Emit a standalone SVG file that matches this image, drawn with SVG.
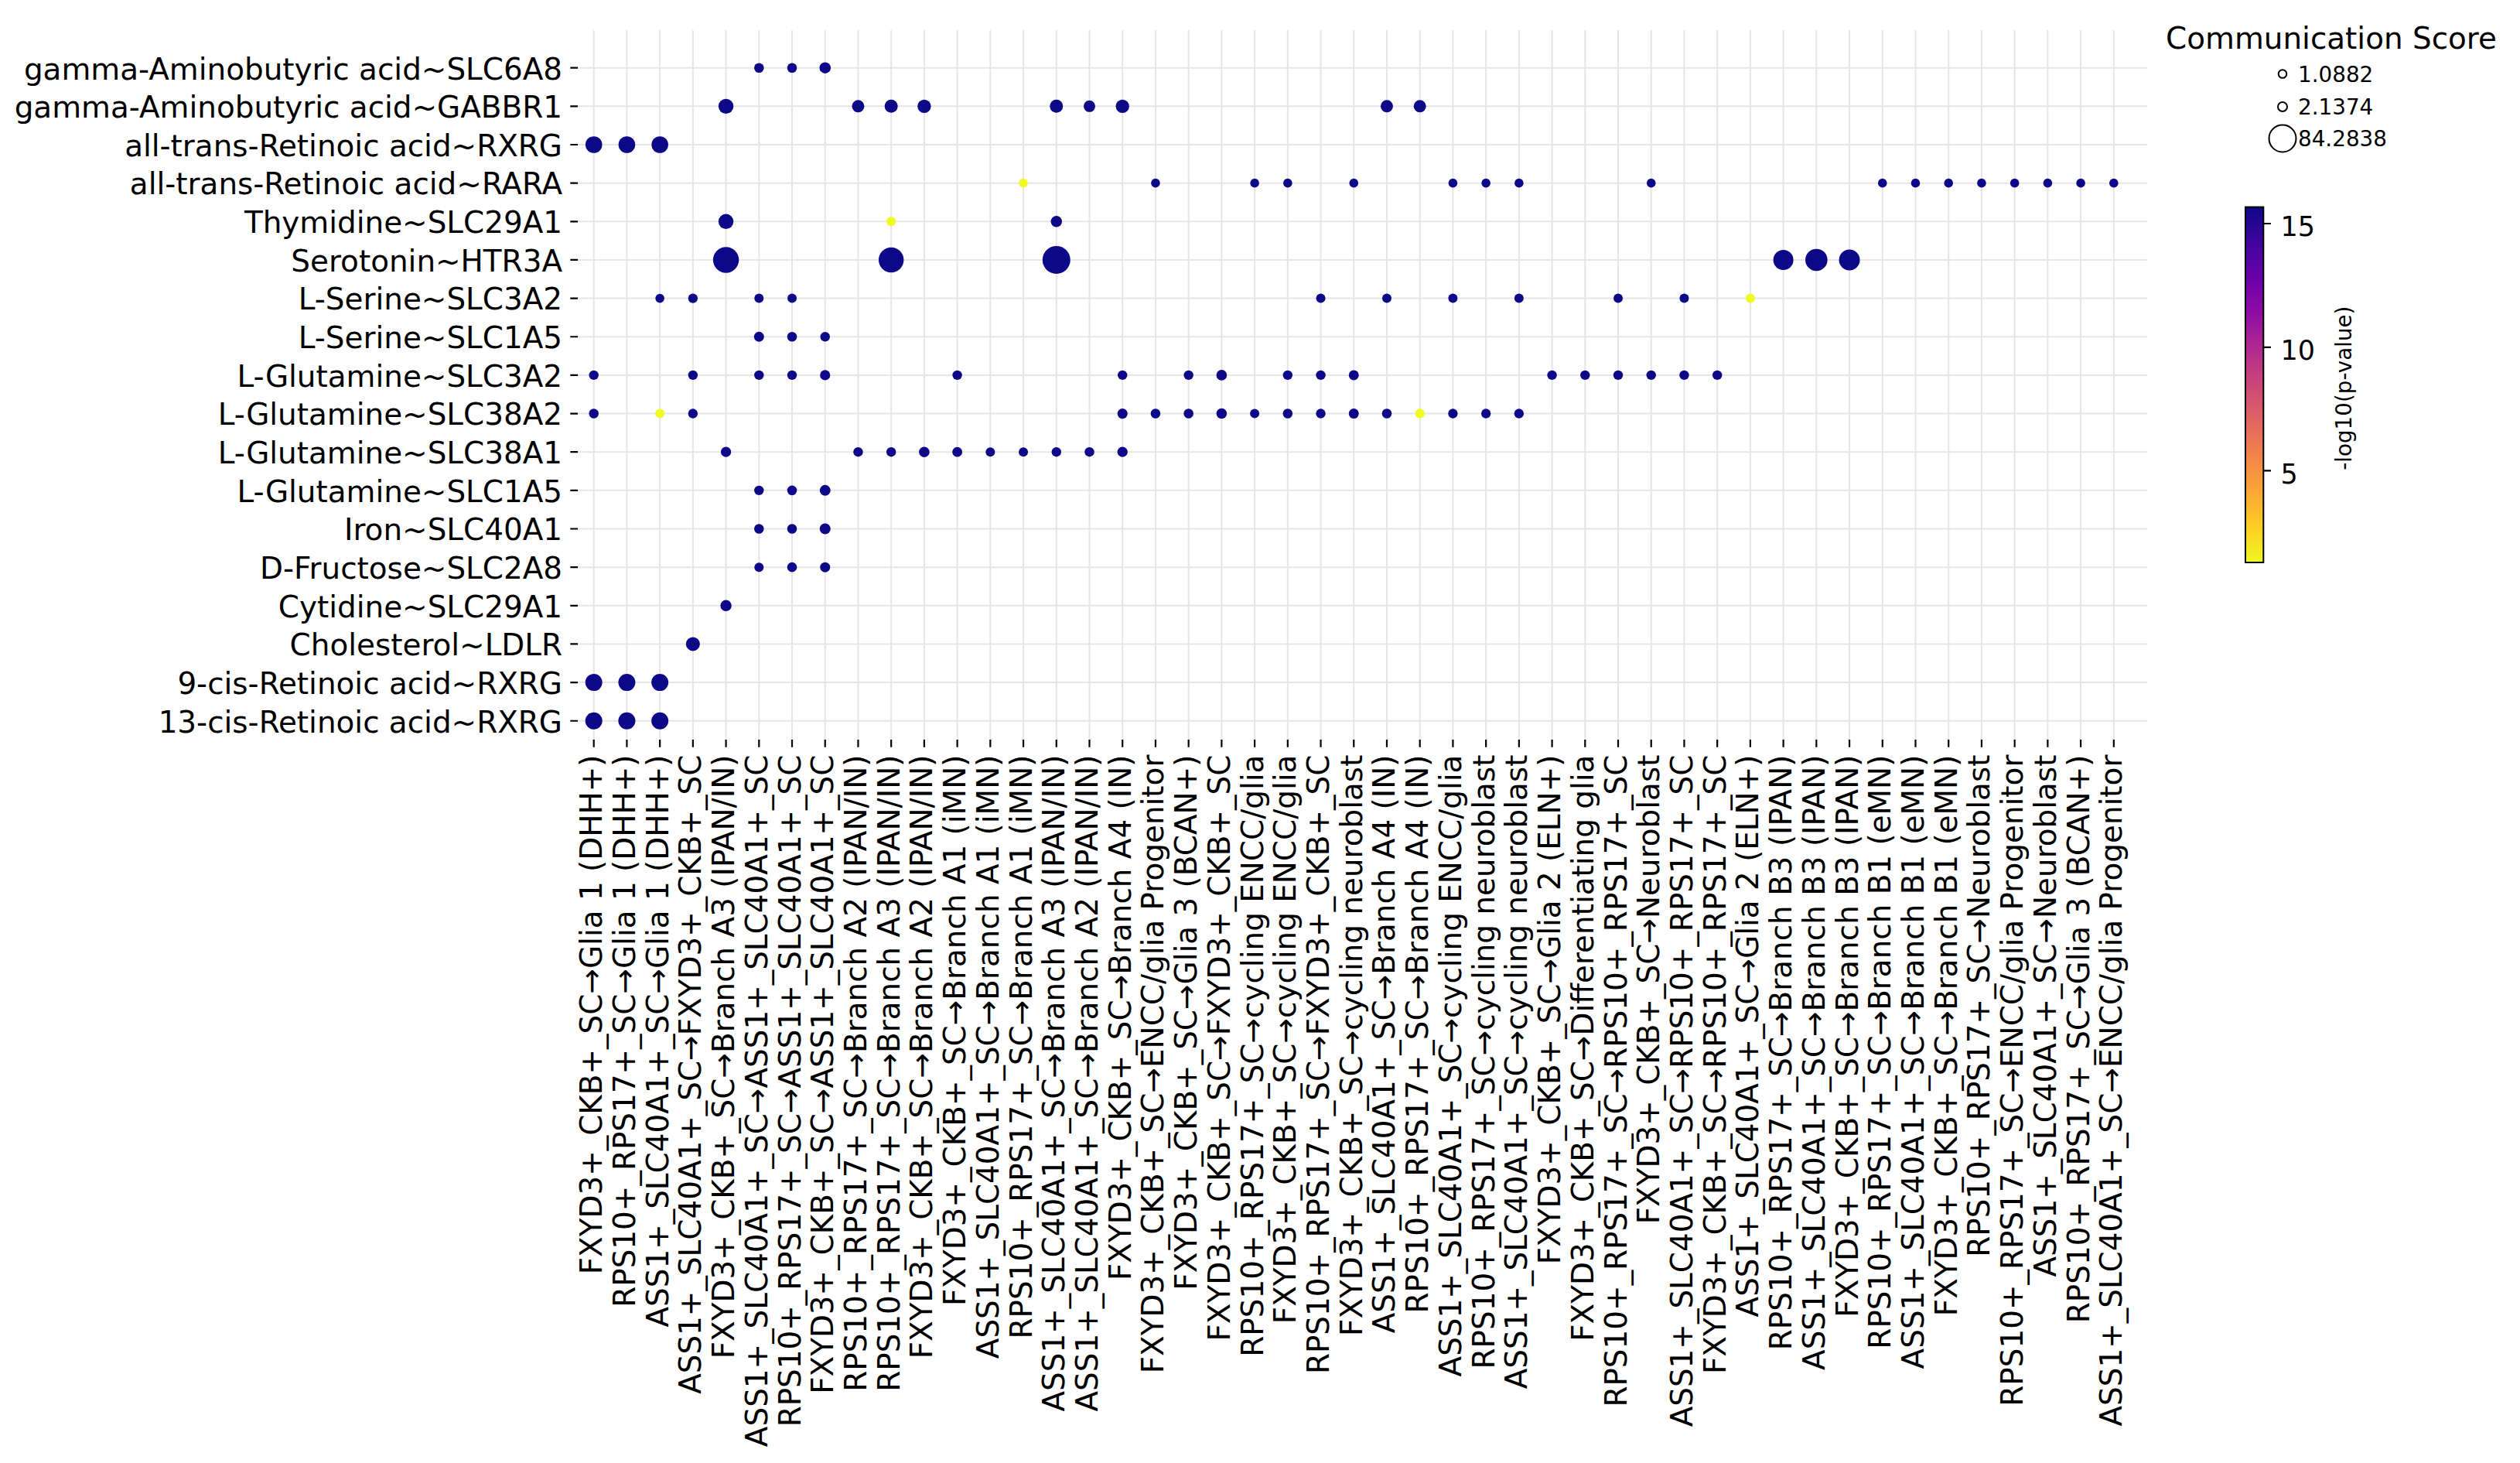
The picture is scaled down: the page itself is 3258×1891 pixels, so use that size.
<svg xmlns="http://www.w3.org/2000/svg" width="3258" height="1891" viewBox="0 0 3258 1891">
<defs>
<style>
text{font-family:"DejaVu Sans","Liberation Sans",sans-serif;fill:#000}
.yl{font-size:38.9px;text-anchor:end}
.xl{font-size:38.9px;text-anchor:end}
.grid{stroke:#e6e6e6;stroke-width:2;fill:none}
.tick{stroke:#000;stroke-width:2.2;fill:none}
.b{fill:#0d0887}
.y{fill:#f0f921}
.lg{fill:none;stroke:#000;stroke-width:2}
.lt{font-size:27.8px}
.ct{font-size:35px}
</style>
<linearGradient id="plasma" x1="0" y1="0" x2="0" y2="1">
<stop offset="0" stop-color="#0d0887"/>
<stop offset="0.1" stop-color="#41049d"/>
<stop offset="0.2" stop-color="#6a00a8"/>
<stop offset="0.3" stop-color="#8f0da4"/>
<stop offset="0.4" stop-color="#b12a90"/>
<stop offset="0.5" stop-color="#cc4778"/>
<stop offset="0.6" stop-color="#e16462"/>
<stop offset="0.7" stop-color="#f2844b"/>
<stop offset="0.8" stop-color="#fca636"/>
<stop offset="0.9" stop-color="#fcce25"/>
<stop offset="1" stop-color="#f0f921"/>
</linearGradient>
</defs>
<rect width="3258" height="1891" fill="#fff"/>
<g id="grid">
<path class="grid" d="M767.7 39V956M810.42 39V956M853.14 39V956M895.86 39V956M938.58 39V956M981.3 39V956M1024.02 39V956M1066.74 39V956M1109.46 39V956M1152.18 39V956M1194.9 39V956M1237.62 39V956M1280.34 39V956M1323.06 39V956M1365.78 39V956M1408.5 39V956M1451.22 39V956M1493.94 39V956M1536.66 39V956M1579.38 39V956M1622.1 39V956M1664.82 39V956M1707.54 39V956M1750.26 39V956M1792.98 39V956M1835.7 39V956M1878.42 39V956M1921.14 39V956M1963.86 39V956M2006.58 39V956M2049.3 39V956M2092.02 39V956M2134.74 39V956M2177.46 39V956M2220.18 39V956M2262.9 39V956M2305.62 39V956M2348.34 39V956M2391.06 39V956M2433.78 39V956M2476.5 39V956M2519.22 39V956M2561.94 39V956M2604.66 39V956M2647.38 39V956M2690.1 39V956M2732.82 39V956"/>
<path class="grid" d="M747 87.7H2776M747 137.35H2776M747 187H2776M747 236.65H2776M747 286.3H2776M747 335.95H2776M747 385.6H2776M747 435.25H2776M747 484.9H2776M747 534.55H2776M747 584.2H2776M747 633.85H2776M747 683.5H2776M747 733.15H2776M747 782.8H2776M747 832.45H2776M747 882.1H2776M747 931.75H2776"/>
</g>
<g id="ticks">
<path class="tick" d="M737.3 87.7H747M737.3 137.35H747M737.3 187H747M737.3 236.65H747M737.3 286.3H747M737.3 335.95H747M737.3 385.6H747M737.3 435.25H747M737.3 484.9H747M737.3 534.55H747M737.3 584.2H747M737.3 633.85H747M737.3 683.5H747M737.3 733.15H747M737.3 782.8H747M737.3 832.45H747M737.3 882.1H747M737.3 931.75H747"/>
<path class="tick" d="M767.7 956V965.7M810.42 956V965.7M853.14 956V965.7M895.86 956V965.7M938.58 956V965.7M981.3 956V965.7M1024.02 956V965.7M1066.74 956V965.7M1109.46 956V965.7M1152.18 956V965.7M1194.9 956V965.7M1237.62 956V965.7M1280.34 956V965.7M1323.06 956V965.7M1365.78 956V965.7M1408.5 956V965.7M1451.22 956V965.7M1493.94 956V965.7M1536.66 956V965.7M1579.38 956V965.7M1622.1 956V965.7M1664.82 956V965.7M1707.54 956V965.7M1750.26 956V965.7M1792.98 956V965.7M1835.7 956V965.7M1878.42 956V965.7M1921.14 956V965.7M1963.86 956V965.7M2006.58 956V965.7M2049.3 956V965.7M2092.02 956V965.7M2134.74 956V965.7M2177.46 956V965.7M2220.18 956V965.7M2262.9 956V965.7M2305.62 956V965.7M2348.34 956V965.7M2391.06 956V965.7M2433.78 956V965.7M2476.5 956V965.7M2519.22 956V965.7M2561.94 956V965.7M2604.66 956V965.7M2647.38 956V965.7M2690.1 956V965.7M2732.82 956V965.7"/>
</g>
<g id="row-labels">
<text class="yl" x="727" y="102.5">gamma-Aminobutyric acid~SLC6A8</text>
<text class="yl" x="727" y="152.15">gamma-Aminobutyric acid~GABBR1</text>
<text class="yl" x="727" y="201.8">all-trans-Retinoic acid~RXRG</text>
<text class="yl" x="727" y="251.45">all-trans-Retinoic acid~RARA</text>
<text class="yl" x="727" y="301.1">Thymidine~SLC29A1</text>
<text class="yl" x="727" y="350.75">Serotonin~HTR3A</text>
<text class="yl" x="727" y="400.4">L-Serine~SLC3A2</text>
<text class="yl" x="727" y="450.05">L-Serine~SLC1A5</text>
<text class="yl" x="727" y="499.7">L-Glutamine~SLC3A2</text>
<text class="yl" x="727" y="549.35">L-Glutamine~SLC38A2</text>
<text class="yl" x="727" y="599">L-Glutamine~SLC38A1</text>
<text class="yl" x="727" y="648.65">L-Glutamine~SLC1A5</text>
<text class="yl" x="727" y="698.3">Iron~SLC40A1</text>
<text class="yl" x="727" y="747.95">D-Fructose~SLC2A8</text>
<text class="yl" x="727" y="797.6">Cytidine~SLC29A1</text>
<text class="yl" x="727" y="847.25">Cholesterol~LDLR</text>
<text class="yl" x="727" y="896.9">9-cis-Retinoic acid~RXRG</text>
<text class="yl" x="727" y="946.55">13-cis-Retinoic acid~RXRG</text>
</g>
<g id="column-labels">
<text class="xl" transform="translate(778.2 975.6) rotate(-90)">FXYD3+_CKB+_SC→Glia 1 (DHH+)</text>
<text class="xl" transform="translate(820.92 975.6) rotate(-90)">RPS10+_RPS17+_SC→Glia 1 (DHH+)</text>
<text class="xl" transform="translate(863.64 975.6) rotate(-90)">ASS1+_SLC40A1+_SC→Glia 1 (DHH+)</text>
<text class="xl" transform="translate(906.36 975.6) rotate(-90)">ASS1+_SLC40A1+_SC→FXYD3+_CKB+_SC</text>
<text class="xl" transform="translate(949.08 975.6) rotate(-90)">FXYD3+_CKB+_SC→Branch A3 (IPAN/IN)</text>
<text class="xl" transform="translate(991.8 975.6) rotate(-90)">ASS1+_SLC40A1+_SC→ASS1+_SLC40A1+_SC</text>
<text class="xl" transform="translate(1034.52 975.6) rotate(-90)">RPS10+_RPS17+_SC→ASS1+_SLC40A1+_SC</text>
<text class="xl" transform="translate(1077.24 975.6) rotate(-90)">FXYD3+_CKB+_SC→ASS1+_SLC40A1+_SC</text>
<text class="xl" transform="translate(1119.96 975.6) rotate(-90)">RPS10+_RPS17+_SC→Branch A2 (IPAN/IN)</text>
<text class="xl" transform="translate(1162.68 975.6) rotate(-90)">RPS10+_RPS17+_SC→Branch A3 (IPAN/IN)</text>
<text class="xl" transform="translate(1205.4 975.6) rotate(-90)">FXYD3+_CKB+_SC→Branch A2 (IPAN/IN)</text>
<text class="xl" transform="translate(1248.12 975.6) rotate(-90)">FXYD3+_CKB+_SC→Branch A1 (iMN)</text>
<text class="xl" transform="translate(1290.84 975.6) rotate(-90)">ASS1+_SLC40A1+_SC→Branch A1 (iMN)</text>
<text class="xl" transform="translate(1333.56 975.6) rotate(-90)">RPS10+_RPS17+_SC→Branch A1 (iMN)</text>
<text class="xl" transform="translate(1376.28 975.6) rotate(-90)">ASS1+_SLC40A1+_SC→Branch A3 (IPAN/IN)</text>
<text class="xl" transform="translate(1419 975.6) rotate(-90)">ASS1+_SLC40A1+_SC→Branch A2 (IPAN/IN)</text>
<text class="xl" transform="translate(1461.72 975.6) rotate(-90)">FXYD3+_CKB+_SC→Branch A4 (IN)</text>
<text class="xl" transform="translate(1504.44 975.6) rotate(-90)">FXYD3+_CKB+_SC→ENCC/glia Progenitor</text>
<text class="xl" transform="translate(1547.16 975.6) rotate(-90)">FXYD3+_CKB+_SC→Glia 3 (BCAN+)</text>
<text class="xl" transform="translate(1589.88 975.6) rotate(-90)">FXYD3+_CKB+_SC→FXYD3+_CKB+_SC</text>
<text class="xl" transform="translate(1632.6 975.6) rotate(-90)">RPS10+_RPS17+_SC→cycling ENCC/glia</text>
<text class="xl" transform="translate(1675.32 975.6) rotate(-90)">FXYD3+_CKB+_SC→cycling ENCC/glia</text>
<text class="xl" transform="translate(1718.04 975.6) rotate(-90)">RPS10+_RPS17+_SC→FXYD3+_CKB+_SC</text>
<text class="xl" transform="translate(1760.76 975.6) rotate(-90)">FXYD3+_CKB+_SC→cycling neuroblast</text>
<text class="xl" transform="translate(1803.48 975.6) rotate(-90)">ASS1+_SLC40A1+_SC→Branch A4 (IN)</text>
<text class="xl" transform="translate(1846.2 975.6) rotate(-90)">RPS10+_RPS17+_SC→Branch A4 (IN)</text>
<text class="xl" transform="translate(1888.92 975.6) rotate(-90)">ASS1+_SLC40A1+_SC→cycling ENCC/glia</text>
<text class="xl" transform="translate(1931.64 975.6) rotate(-90)">RPS10+_RPS17+_SC→cycling neuroblast</text>
<text class="xl" transform="translate(1974.36 975.6) rotate(-90)">ASS1+_SLC40A1+_SC→cycling neuroblast</text>
<text class="xl" transform="translate(2017.08 975.6) rotate(-90)">FXYD3+_CKB+_SC→Glia 2 (ELN+)</text>
<text class="xl" transform="translate(2059.8 975.6) rotate(-90)">FXYD3+_CKB+_SC→Differentiating glia</text>
<text class="xl" transform="translate(2102.52 975.6) rotate(-90)">RPS10+_RPS17+_SC→RPS10+_RPS17+_SC</text>
<text class="xl" transform="translate(2145.24 975.6) rotate(-90)">FXYD3+_CKB+_SC→Neuroblast</text>
<text class="xl" transform="translate(2187.96 975.6) rotate(-90)">ASS1+_SLC40A1+_SC→RPS10+_RPS17+_SC</text>
<text class="xl" transform="translate(2230.68 975.6) rotate(-90)">FXYD3+_CKB+_SC→RPS10+_RPS17+_SC</text>
<text class="xl" transform="translate(2273.4 975.6) rotate(-90)">ASS1+_SLC40A1+_SC→Glia 2 (ELN+)</text>
<text class="xl" transform="translate(2316.12 975.6) rotate(-90)">RPS10+_RPS17+_SC→Branch B3 (IPAN)</text>
<text class="xl" transform="translate(2358.84 975.6) rotate(-90)">ASS1+_SLC40A1+_SC→Branch B3 (IPAN)</text>
<text class="xl" transform="translate(2401.56 975.6) rotate(-90)">FXYD3+_CKB+_SC→Branch B3 (IPAN)</text>
<text class="xl" transform="translate(2444.28 975.6) rotate(-90)">RPS10+_RPS17+_SC→Branch B1 (eMN)</text>
<text class="xl" transform="translate(2487 975.6) rotate(-90)">ASS1+_SLC40A1+_SC→Branch B1 (eMN)</text>
<text class="xl" transform="translate(2529.72 975.6) rotate(-90)">FXYD3+_CKB+_SC→Branch B1 (eMN)</text>
<text class="xl" transform="translate(2572.44 975.6) rotate(-90)">RPS10+_RPS17+_SC→Neuroblast</text>
<text class="xl" transform="translate(2615.16 975.6) rotate(-90)">RPS10+_RPS17+_SC→ENCC/glia Progenitor</text>
<text class="xl" transform="translate(2657.88 975.6) rotate(-90)">ASS1+_SLC40A1+_SC→Neuroblast</text>
<text class="xl" transform="translate(2700.6 975.6) rotate(-90)">RPS10+_RPS17+_SC→Glia 3 (BCAN+)</text>
<text class="xl" transform="translate(2743.32 975.6) rotate(-90)">ASS1+_SLC40A1+_SC→ENCC/glia Progenitor</text>
</g>
<g id="dots">
<circle class="b" cx="981.3" cy="87.7" r="6.3"/><circle class="b" cx="1024.02" cy="87.7" r="6.3"/><circle class="b" cx="1066.74" cy="87.7" r="7.3"/>
<circle class="b" cx="938.58" cy="137.35" r="9.7"/><circle class="b" cx="1109.46" cy="137.35" r="8"/><circle class="b" cx="1152.18" cy="137.35" r="8.5"/><circle class="b" cx="1194.9" cy="137.35" r="8.7"/><circle class="b" cx="1365.78" cy="137.35" r="8.5"/><circle class="b" cx="1408.5" cy="137.35" r="7.5"/><circle class="b" cx="1451.22" cy="137.35" r="8.7"/><circle class="b" cx="1792.98" cy="137.35" r="8"/><circle class="b" cx="1835.7" cy="137.35" r="8"/>
<circle class="b" cx="767.7" cy="187" r="10.8"/><circle class="b" cx="810.42" cy="187" r="10.8"/><circle class="b" cx="853.14" cy="187" r="10.8"/>
<circle class="y" cx="1323.06" cy="236.65" r="5.8"/><circle class="b" cx="1493.94" cy="236.65" r="5.8"/><circle class="b" cx="1622.1" cy="236.65" r="5.8"/><circle class="b" cx="1664.82" cy="236.65" r="5.8"/><circle class="b" cx="1750.26" cy="236.65" r="5.8"/><circle class="b" cx="1878.42" cy="236.65" r="5.8"/><circle class="b" cx="1921.14" cy="236.65" r="5.8"/><circle class="b" cx="1963.86" cy="236.65" r="5.8"/><circle class="b" cx="2134.74" cy="236.65" r="5.8"/><circle class="b" cx="2433.78" cy="236.65" r="5.8"/><circle class="b" cx="2476.5" cy="236.65" r="5.8"/><circle class="b" cx="2519.22" cy="236.65" r="5.8"/><circle class="b" cx="2561.94" cy="236.65" r="5.8"/><circle class="b" cx="2604.66" cy="236.65" r="5.8"/><circle class="b" cx="2647.38" cy="236.65" r="5.8"/><circle class="b" cx="2690.1" cy="236.65" r="5.8"/><circle class="b" cx="2732.82" cy="236.65" r="5.8"/>
<circle class="b" cx="938.58" cy="286.3" r="9.7"/><circle class="y" cx="1152.18" cy="286.3" r="6"/><circle class="b" cx="1365.78" cy="286.3" r="7.2"/>
<circle class="b" cx="938.58" cy="335.95" r="16.7"/><circle class="b" cx="1152.18" cy="335.95" r="16.2"/><circle class="b" cx="1365.78" cy="335.95" r="18"/><circle class="b" cx="2305.62" cy="335.95" r="13"/><circle class="b" cx="2348.34" cy="335.95" r="14.3"/><circle class="b" cx="2391.06" cy="335.95" r="13.5"/>
<circle class="b" cx="853.14" cy="385.6" r="5.8"/><circle class="b" cx="895.86" cy="385.6" r="6.2"/><circle class="b" cx="981.3" cy="385.6" r="6"/><circle class="b" cx="1024.02" cy="385.6" r="6"/><circle class="b" cx="1707.54" cy="385.6" r="6"/><circle class="b" cx="1792.98" cy="385.6" r="6"/><circle class="b" cx="1878.42" cy="385.6" r="6"/><circle class="b" cx="1963.86" cy="385.6" r="6"/><circle class="b" cx="2092.02" cy="385.6" r="6"/><circle class="b" cx="2177.46" cy="385.6" r="6"/><circle class="y" cx="2262.9" cy="385.6" r="6"/>
<circle class="b" cx="981.3" cy="435.25" r="6.5"/><circle class="b" cx="1024.02" cy="435.25" r="6.3"/><circle class="b" cx="1066.74" cy="435.25" r="6.2"/>
<circle class="b" cx="767.7" cy="484.9" r="6.2"/><circle class="b" cx="895.86" cy="484.9" r="6.2"/><circle class="b" cx="981.3" cy="484.9" r="6.2"/><circle class="b" cx="1024.02" cy="484.9" r="6.2"/><circle class="b" cx="1066.74" cy="484.9" r="6.6"/><circle class="b" cx="1237.62" cy="484.9" r="6.2"/><circle class="b" cx="1451.22" cy="484.9" r="6.2"/><circle class="b" cx="1536.66" cy="484.9" r="6.2"/><circle class="b" cx="1579.38" cy="484.9" r="6.8"/><circle class="b" cx="1664.82" cy="484.9" r="6.2"/><circle class="b" cx="1707.54" cy="484.9" r="6.2"/><circle class="b" cx="1750.26" cy="484.9" r="6.5"/><circle class="b" cx="2006.58" cy="484.9" r="6.2"/><circle class="b" cx="2049.3" cy="484.9" r="6.2"/><circle class="b" cx="2092.02" cy="484.9" r="6.2"/><circle class="b" cx="2134.74" cy="484.9" r="6.2"/><circle class="b" cx="2177.46" cy="484.9" r="6.2"/><circle class="b" cx="2220.18" cy="484.9" r="6.2"/>
<circle class="b" cx="767.7" cy="534.55" r="6.3"/><circle class="y" cx="853.14" cy="534.55" r="6"/><circle class="b" cx="895.86" cy="534.55" r="6.2"/><circle class="b" cx="1451.22" cy="534.55" r="6.6"/><circle class="b" cx="1493.94" cy="534.55" r="6.3"/><circle class="b" cx="1536.66" cy="534.55" r="6.3"/><circle class="b" cx="1579.38" cy="534.55" r="6.8"/><circle class="b" cx="1622.1" cy="534.55" r="6"/><circle class="b" cx="1664.82" cy="534.55" r="6.3"/><circle class="b" cx="1707.54" cy="534.55" r="6.2"/><circle class="b" cx="1750.26" cy="534.55" r="6.5"/><circle class="b" cx="1792.98" cy="534.55" r="6.3"/><circle class="y" cx="1835.7" cy="534.55" r="6.2"/><circle class="b" cx="1878.42" cy="534.55" r="6.2"/><circle class="b" cx="1921.14" cy="534.55" r="6.2"/><circle class="b" cx="1963.86" cy="534.55" r="6.2"/>
<circle class="b" cx="938.58" cy="584.2" r="6.6"/><circle class="b" cx="1109.46" cy="584.2" r="6.2"/><circle class="b" cx="1152.18" cy="584.2" r="6.2"/><circle class="b" cx="1194.9" cy="584.2" r="6.8"/><circle class="b" cx="1237.62" cy="584.2" r="6.4"/><circle class="b" cx="1280.34" cy="584.2" r="6"/><circle class="b" cx="1323.06" cy="584.2" r="6"/><circle class="b" cx="1365.78" cy="584.2" r="6.2"/><circle class="b" cx="1408.5" cy="584.2" r="6.2"/><circle class="b" cx="1451.22" cy="584.2" r="6.6"/>
<circle class="b" cx="981.3" cy="633.85" r="6.2"/><circle class="b" cx="1024.02" cy="633.85" r="6.3"/><circle class="b" cx="1066.74" cy="633.85" r="7"/>
<circle class="b" cx="981.3" cy="683.5" r="6.3"/><circle class="b" cx="1024.02" cy="683.5" r="6.3"/><circle class="b" cx="1066.74" cy="683.5" r="7"/>
<circle class="b" cx="981.3" cy="733.15" r="6"/><circle class="b" cx="1024.02" cy="733.15" r="6.3"/><circle class="b" cx="1066.74" cy="733.15" r="6.5"/>
<circle class="b" cx="938.58" cy="782.8" r="7.2"/>
<circle class="b" cx="895.86" cy="832.45" r="9"/>
<circle class="b" cx="767.7" cy="882.1" r="11"/><circle class="b" cx="810.42" cy="882.1" r="11"/><circle class="b" cx="853.14" cy="882.1" r="11"/>
<circle class="b" cx="767.7" cy="931.75" r="11"/><circle class="b" cx="810.42" cy="931.75" r="11"/><circle class="b" cx="853.14" cy="931.75" r="11"/>
</g>
<g id="size-legend">
<text x="3014" y="63" style="font-size:38.9px;text-anchor:middle">Communication Score</text>
<circle class="lg" cx="2951" cy="95.5" r="5.3"/>
<circle class="lg" cx="2951" cy="138" r="6"/>
<circle class="lg" cx="2951" cy="179" r="17.5"/>
<text class="lt" x="2971" y="105.7">1.0882</text>
<text class="lt" x="2971" y="147.8">2.1374</text>
<text class="lt" x="2971" y="189">84.2838</text>
</g>
<g id="colorbar">
<rect x="2903" y="267.6" width="23.3" height="459.4" fill="url(#plasma)" stroke="#000" stroke-width="2"/>
<path class="tick" d="M2926.3 289H2936M2926.3 448.9H2936M2926.3 608.3H2936"/>
<text class="ct" x="2948.5" y="305.4">15</text>
<text class="ct" x="2948.5" y="465.3">10</text>
<text class="ct" x="2948.5" y="624.7">5</text>
<text class="lt" transform="translate(3039.5 501.7) rotate(-90)" style="text-anchor:middle">-log10(p-value)</text>
</g>
</svg>
